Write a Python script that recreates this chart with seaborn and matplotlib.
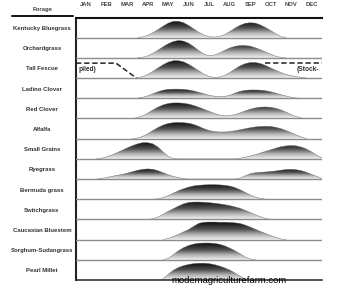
import numpy as np
import pandas as pd
import matplotlib
matplotlib.use("Agg")
import matplotlib.pyplot as plt
from matplotlib.patches import Polygon
from matplotlib.lines import Line2D
from matplotlib.colors import LinearSegmentedColormap
from matplotlib.transforms import blended_transform_factory
import seaborn as sns

# ---------------- data ----------------
forages = ["Kentucky Bluegrass", "Orchardgrass", "Tall Fescue", "Ladino Clover",
           "Red Clover", "Alfalfa", "Small Grains", "Ryegrass", "Bermuda grass",
           "Switchgrass", "Caucasian Bluestem", "Sorghum-Sudangrass", "Pearl Millet"]
months = ["JAN", "FEB", "MAR", "APR", "MAY", "JUN", "JUL", "AUG", "SEP", "OCT", "NOV", "DEC"]

step = 0.25  # months between samples
curve_starts = [3.0, 3.0, 3.0, 3.0, 2.75, 2.75, 1.0, 1.0, 3.75, 3.5, 4.25, 4.25, 4.0]

kentucky_bluegrass = [0, .04, .12, .24, .40, .57, .72, .81, .81, .74, .60, .43, .26, .13, .05, .03,
                      .06, .15, .30, .47, .61, .71, .74, .72, .63, .50, .35, .19, .05, 0]
orchardgrass = [0, .03, .10, .22, .38, .55, .70, .81, .86, .83, .72, .55, .35, .18, .11, .14,
                .24, .37, .49, .57, .61, .61, .58, .50, .40, .29, .18, .08, .02, 0]
tall_fescue = [.01, .07, .18, .33, .50, .66, .79, .86, .86, .80, .68, .52, .35, .19, .08, .03,
               .05, .13, .27, .44, .60, .71, .77, .77, .72, .62, .50, .38, .27, .18, .12, .07, .03, 0]
ladino_clover = [.01, .05, .12, .22, .32, .40, .44, .45, .45, .44, .41, .36, .29, .22, .15, .10,
                 .08, .09, .15, .25, .34, .39, .41, .41, .40, .37, .32, .25, .18, .11, .05, .01, 0]
red_clover = [0, .04, .13, .26, .42, .56, .67, .74, .77, .77, .75, .71, .64, .55, .45, .35, .25,
              .17, .13, .14, .19, .27, .37, .46, .52, .56, .57, .55, .50, .42, .31, .19, .09, .02, 0]
alfalfa = [0, .03, .11, .24, .40, .55, .67, .75, .79, .80, .79, .76, .70, .60, .49, .40, .35,
           .33, .33, .35, .39, .44, .49, .54, .58, .60, .61, .60, .56, .49, .40, .29, .18, .08, 0]
small_grains = [0, .03, .10, .19, .30, .42, .54, .65, .74, .80, .80, .74, .58, .34, .12, .01,
                0, 0, 0, 0, 0, 0, 0, 0, 0, 0, 0, 0,
                .03, .08, .14, .21, .29, .37, .45, .53, .60, .64, .66, .64, .58, .48, .34, .18, .04]
ryegrass = [0, .03, .08, .13, .18, .23, .29, .36, .43, .48, .50, .48, .41, .31, .21, .13, .07, .02, 0,
            0, 0, 0, 0, 0, 0, 0, 0, 0,
            .05, .16, .26, .31, .33, .35, .37, .40, .44, .47, .48, .46, .41, .33, .23, .13, .03]
bermuda_grass = [0, .02, .08, .18, .30, .42, .52, .60, .66, .69, .71, .72, .72, .71, .69, .65,
                 .58, .47, .34, .21, .11, .04, 0]
switchgrass = [0, .03, .12, .25, .40, .53, .66, .77, .84, .86, .86, .85, .83, .80, .77, .73, .68,
               .62, .55, .45, .34, .23, .13, .05, 0]
caucasian_bluestem = [0, .06, .15, .26, .38, .50, .66, .81, .86, .87, .87, .86, .86, .85, .83,
                      .80, .72, .62, .51, .40, .30, .20, .11, .03, 0]
sorghum_sudangrass = [0, .07, .25, .45, .60, .71, .78, .82, .83, .83, .81, .77, .69, .58, .45,
                      .30, .14, .04, 0]
pearl_millet = [0, .05, .28, .48, .62, .71, .77, .81, .83, .83, .81, .76, .69, .60, .49, .35,
                .19, .05, 0]

series = [kentucky_bluegrass, orchardgrass, tall_fescue, ladino_clover, red_clover, alfalfa,
          small_grains, ryegrass, bermuda_grass, switchgrass, caucasian_bluestem,
          sorghum_sudangrass, pearl_millet]

stockpiled_left_x = [0.0, 1.95, 2.95]
stockpiled_left_h = [0.74, 0.74, 0.0]
stockpiled_right_x = [9.2, 12.0]
stockpiled_right_h = [0.74, 0.74]

# ---------------- drawing ----------------
sns.set_style("white")
plt.rcParams["font.family"] = ["Liberation Sans", "DejaVu Sans"]

W, H = 337, 290
fig = plt.figure(figsize=(W / 100, H / 100), dpi=100)
ax = fig.add_axes([76 / W, 10 / H, 246 / W, 262.5 / H])

cmap = LinearSegmentedColormap.from_list(
    "hump", [(0.0, "#f2f2f2"), (0.3, "#b4b4b4"), (0.6, "#505050"), (1.0, "#0e0e0e")])
grad = np.linspace(0, 1, 256).reshape(-1, 1)

n = len(forages)
for i, (name, start, vals) in enumerate(zip(forages, curve_starts, series)):
    base = n - 1 - i
    x = start + step * np.arange(len(vals))
    h = np.array(vals, dtype=float)
    hmax = h.max()
    verts = [(x[0], base)] + list(zip(x, base + h)) + [(x[-1], base)]
    poly = Polygon(verts, closed=True, facecolor="none", edgecolor="none")
    ax.add_patch(poly)
    im = ax.imshow(grad, extent=[0, 12, base, base + hmax], origin="lower", cmap=cmap,
                   vmin=0, vmax=1, aspect="auto", interpolation="bilinear", zorder=2)
    im.set_clip_path(poly)
    df = pd.DataFrame({"x": x, "y": base + h})
    sns.lineplot(data=df, x="x", y="y", ax=ax, color="#555555", lw=0.4, alpha=0.7, zorder=3,
                 estimator=None, sort=False)
    if i < n - 1:
        ax.axhline(base, color="#8c8c8c", lw=1.0, zorder=4)

# stockpiled tall fescue dashed lines
tf_base = n - 1 - forages.index("Tall Fescue")
ax.plot(stockpiled_left_x, [tf_base + v for v in stockpiled_left_h], color="#222222",
        lw=1.1, dashes=(3.5, 1.8), zorder=5)
ax.plot(stockpiled_right_x, [tf_base + v for v in stockpiled_right_h], color="#222222",
        lw=1.1, dashes=(3.5, 1.8), zorder=5)
ax.text(0.1, tf_base + 0.40, "piled)", ha="left", va="center", fontsize=4.8,
        fontweight="bold", color="#333333", zorder=6)
ax.text(10.78, tf_base + 0.40, "(Stock-", ha="left", va="center", fontsize=4.8,
        fontweight="bold", color="#333333", zorder=6, clip_on=False)

ax.set_xlim(0, 12)
ax.set_ylim(0, n)
ax.set_xticks([])
ax.set_yticks([])
ax.set_xlabel("")
ax.set_ylabel("")
ax.spines["right"].set_visible(False)
ax.spines["top"].set_color("#111111")
ax.spines["top"].set_linewidth(1.5)
ax.spines["left"].set_color("#222222")
ax.spines["left"].set_linewidth(1.5)
ax.spines["bottom"].set_color("#333333")
ax.spines["bottom"].set_linewidth(1.2)

# month labels
for j, m in enumerate(months):
    ax.text(j + 0.5, n + 0.64, m, ha="center", va="center", fontsize=4.2,
            fontweight="bold", color="#444444", clip_on=False)

# forage labels
tr = blended_transform_factory(fig.transFigure, ax.transData)
for i, name in enumerate(forages):
    base = n - 1 - i
    ax.text(42 / W, base + 0.45, name, transform=tr, ha="center", va="center",
            fontsize=4.3, fontweight="bold", color="#333333", clip_on=False)

fig.text(43 / W, 1 - 9 / H, "Forage", ha="center", va="center", fontsize=4.3,
         fontweight="bold", color="#444444")
fig.add_artist(Line2D([12 / W, 73 / W], [1 - 15.7 / H, 1 - 15.7 / H],
                      transform=fig.transFigure, color="#111111", lw=1.4))

fig.text(229 / W, 1 - 280.5 / H, "modemagriculturefarm.com", ha="center", va="center",
         fontsize=6.8, color="black", zorder=10)

fig.savefig("out.png", dpi=100)
